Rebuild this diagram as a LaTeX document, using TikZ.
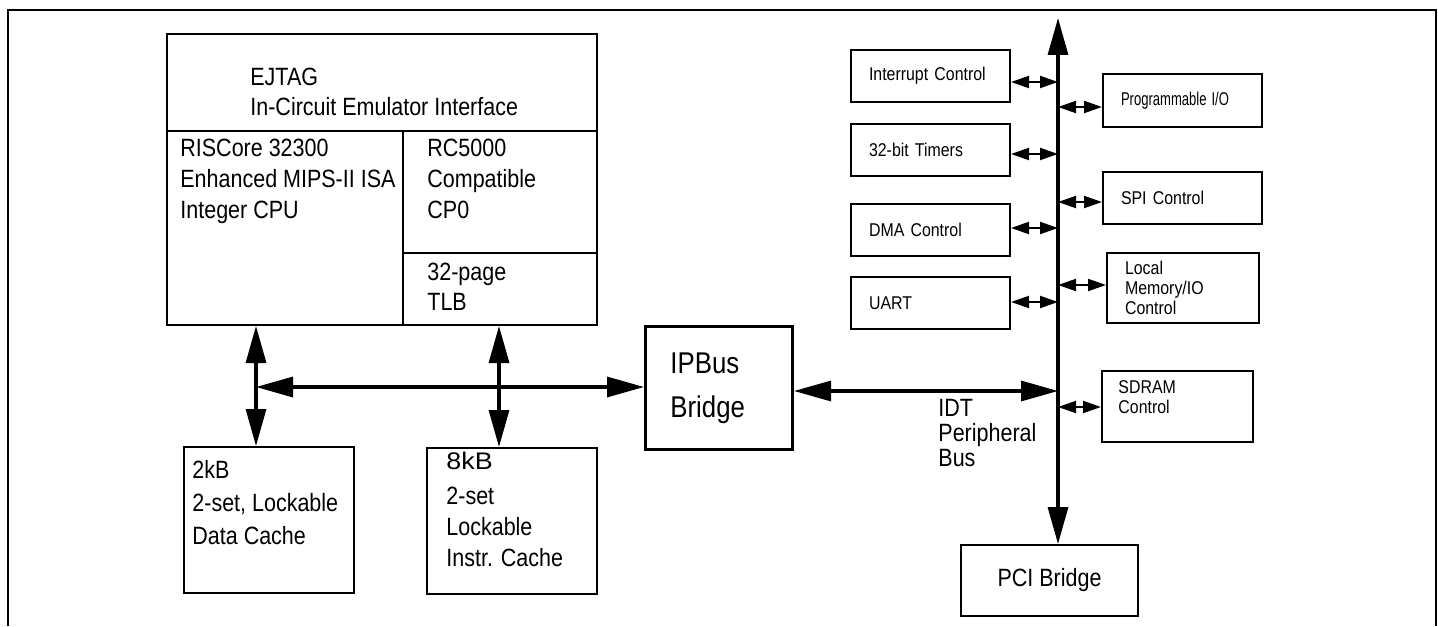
\documentclass[tikz,border=0pt]{standalone}
\usepackage{fontspec}
\setmainfont{Liberation Sans}[FakeStretch=0.86]
\newfontfamily\widefont{Liberation Sans}[FakeStretch=1.12]
\usetikzlibrary{arrows.meta}
\tikzset{
  blk/.style={draw, line width=1pt, inner sep=0pt, anchor=north west},
  txt/.style={inner sep=0pt, anchor=north west, align=left, font=\fontsize{12.5}{15.5}\selectfont},
  perbox/.style={draw, line width=1pt, inner xsep=9pt, inner ysep=0pt, text width=61.5pt,
    minimum height=26pt, align=left, font=\fontsize{9.25}{10}\selectfont},
  bigboth/.style={line width=1.6pt, {Triangle[length=18.5pt,width=10pt]}-{Triangle[length=18.5pt,width=10pt]}},
  smallboth/.style={line width=1pt, {Triangle[length=9pt,width=6pt]}-{Triangle[length=9pt,width=6pt]}},
}
\begin{document}
\begin{tikzpicture}[x=0.5pt,y=-0.5pt]
  \useasboundingbox (0,0) rectangle (1438,626);
  \draw[line width=1.2pt] (8,626) -- (8,10) -- (1436,10) -- (1436,626); % frame, open at the bottom

  % CPU core
  \node[blk, minimum width=215pt, minimum height=48.5pt] (ejtag) at (166,33) {};
  \node[blk, minimum width=118pt, minimum height=97pt] (cpu) at (166,130) {};
  \node[blk, minimum width=97pt, minimum height=61pt] (cp0) at (402,130) {};
  \node[blk, minimum width=97pt, minimum height=36pt] (tlb) at (402,252) {};
  \node[txt, font=\fontsize{12.5}{15}\selectfont] (ejtagtxt) at (250,68) {EJTAG\\In-Circuit Emulator Interface};
  \node[txt] (cputxt) at (180,139) {RISCore 32300\\Enhanced MIPS-II ISA\\Integer CPU};
  \node[txt] (cp0txt) at (427,139) {RC5000\\Compatible\\CP0};
  \node[txt, font=\fontsize{12.5}{15}\selectfont] (tlbtxt) at (427,263) {32-page\\TLB};

  % caches
  \node[blk, minimum width=85pt, minimum height=73pt] (dcache) at (183,446) {};
  \node[blk, minimum width=85pt, minimum height=73pt] (icache) at (426,447) {};
  \node[txt, font=\fontsize{12.5}{16.5}\selectfont] (dcachetxt) at (192,460) {2kB\\2-set, Lockable\\Data Cache};
  \node[txt] (icachetxt) at (446,451.5) {{\widefont\fontsize{12}{12}\selectfont 8kB}\\[2pt]2-set\\Lockable\\Instr. Cache};

  % bridges
  \node[blk, line width=1.5pt, minimum width=73.5pt, minimum height=61.5pt] (ipbus) at (644,325) {};
  \node[txt, font=\fontsize{15}{22}\selectfont] (ipbustxt) at (670,352) {IPBus\\Bridge};
  \node[blk, minimum width=88.5pt, minimum height=35.5pt, font=\fontsize{12.5}{15}\selectfont] (pci) at (960,544) {PCI Bridge};
  \node[txt, font=\fontsize{12.5}{12.5}\selectfont] (idttxt) at (938,399) {IDT\\Peripheral\\Bus};

  \coordinate (bustop) at (1058,18);
  \coordinate (dbus) at (256,387);
  \coordinate (ibus) at (499,387);

  % peripherals, left of the bus
  \foreach \name/\yc/\ya/\txt in {intc/76/82/Interrupt Control, tmr/149.5/154/32-bit Timers,
      dma/230/228/DMA Control, uart/303/302/UART} {
      \node[perbox] (\name) at (930.5,\yc) {\txt};
      \draw[smallboth] (\name.east |- 0,\ya) -- (bustop |- 0,\ya); % to bus
  }

  % peripherals, right of the bus
  \node[perbox, minimum height=26.5pt] (pio) at (1182.5,100.5) {\scalebox{0.82}[1]{Programmable I/O}};
  \node[perbox] (spi) at (1182.5,198) {SPI Control};
  \node[perbox, text width=58pt, minimum height=35pt] (lmem) at (1183,288) {Local\\Memory/IO\\Control};
  \node[perbox, text width=57.5pt, minimum height=35.5pt] (sdram) at (1177.5,406.5) {};
  \node[txt, font=\fontsize{9.25}{10}\selectfont] (sdramtxt) at (1118,380) {SDRAM\\Control};
  \foreach \name/\ya in {pio/107, spi/202, lmem/285, sdram/407} {
      \draw[smallboth] (bustop |- 0,\ya) -- (\name.west |- 0,\ya); % from bus
  }

  % buses
  \draw[bigboth] (bustop) -- (bustop |- pci.north);
  \draw[bigboth] (dbus |- cpu.south) -- (dbus |- dcache.north);
  \draw[bigboth] (ibus |- tlb.south) -- (ibus |- icache.north);
  \draw[bigboth] (dbus) -- (dbus -| ipbus.west);
  \draw[bigboth] ([yshift=-1.5pt]ipbus.east) -- ([yshift=-1.5pt]ipbus.east -| bustop);
\end{tikzpicture}
\end{document}
